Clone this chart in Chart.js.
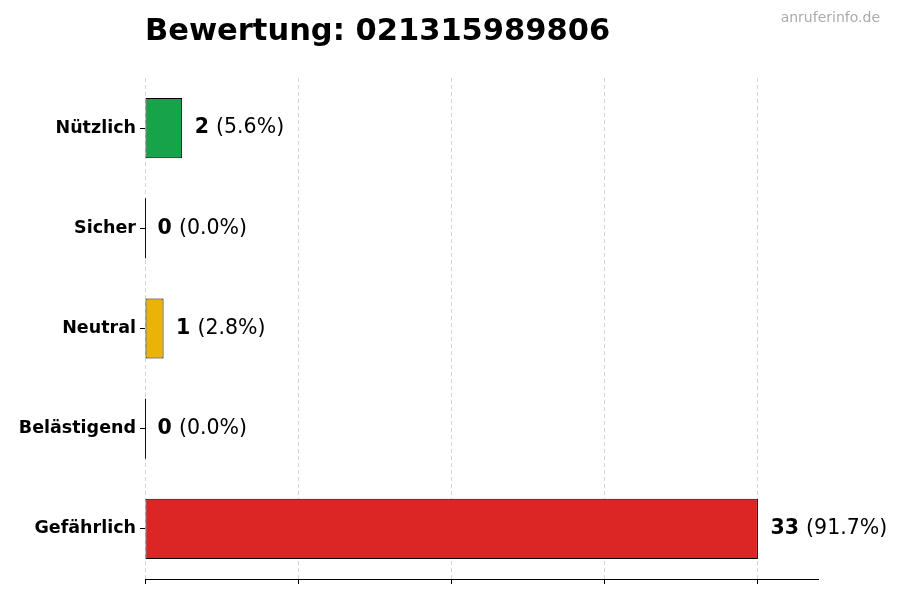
<!DOCTYPE html>
<html><head><meta charset="utf-8">
<script src="https://cdn.jsdelivr.net/npm/chart.js@4"></script>
<style>
html,body{margin:0;padding:0;background:#fff;}
#wrap{position:relative;width:900px;height:600px;font-family:"DejaVu Sans",sans-serif;}
#title{position:absolute;left:145px;top:12px;font-size:30.5px;font-weight:bold;color:#000;white-space:nowrap;}
#wm{position:absolute;right:20px;top:9px;font-size:14px;color:#aaa;}
canvas{position:absolute;left:0;top:0;}
</style></head>
<body>
<div id="wrap">
<canvas id="c" width="900" height="600"></canvas>
<div id="title">Bewertung: 021315989806</div>
<div id="wm">anruferinfo.de</div>
</div>
<script>
const categories = ["Nützlich","Sicher","Neutral","Belästigend","Gefährlich"];
const counts = [2,0,1,0,33];
const colors = ["#16a34a","#9ca3af","#eab308","#f97316","#dc2626"];
const total = counts.reduce((a,b)=>a+b,0);
const maxVal = Math.max(...counts);

const labelPlugin = {
  id:'valLabels',
  afterDatasetsDraw(chart){
    const ctx = chart.ctx;
    const meta = chart.getDatasetMeta(0);
    ctx.save();
    meta.data.forEach((bar,i)=>{
      const v = counts[i];
      if(v===0){
        ctx.strokeStyle='#111';ctx.lineWidth=1;
        ctx.beginPath();
        ctx.moveTo(bar.base+0.5, bar.y-bar.height/2);
        ctx.lineTo(bar.base+0.5, bar.y+bar.height/2);
        ctx.stroke();
      }
      const pct = (v/total*100).toFixed(1);
      let x = bar.x + 12.5;
      ctx.textBaseline='middle';
      ctx.fillStyle='#000';
      ctx.font = 'bold 20.5px "DejaVu Sans"';
      const s1 = String(v);
      ctx.fillText(s1, x, bar.y);
      x += ctx.measureText(s1+' ').width;
      ctx.font = '20.5px "DejaVu Sans"';
      ctx.fillText('('+pct+'%)', x, bar.y);
    });
    ctx.restore();
  }
};

new Chart(document.getElementById('c'),{
  type:'bar',
  data:{labels:categories,datasets:[{data:counts,backgroundColor:colors,borderColor:'#000',borderWidth:1,borderSkipped:false,barPercentage:0.6,categoryPercentage:1}]},
  options:{
    indexAxis:'y',
    responsive:false,
    animation:false,
    layout:{padding:{top:78,right:82,bottom:0,left:0}},
    plugins:{legend:{display:false},tooltip:{enabled:false},title:{display:false}},
    scales:{
      x:{
        min:0,max:maxVal*1.098,z:1,
        afterBuildTicks(s){ s.ticks=[0,0.25,0.5,0.75,1].map(f=>({value:f*maxVal})); },
        afterFit(s){ s.height=21; },
        ticks:{display:false},
        grid:{color:'rgba(0,0,0,0.17)',drawTicks:true,tickLength:5,tickColor:'#000',tickBorderDash:[]},
        border:{display:true,color:'#000',width:1,dash:[4,3]}
      },
      y:{
        afterFit(s){ s.width=145; },
        ticks:{color:'#000',font:{family:'DejaVu Sans',size:17.5,weight:'bold'},padding:4},
        grid:{offset:false,color:'rgba(0,0,0,0)',drawTicks:true,tickLength:5,tickColor:'#000'},
        border:{display:false}
      }
    }
  },
  plugins:[labelPlugin]
});
</script>
</body></html>
